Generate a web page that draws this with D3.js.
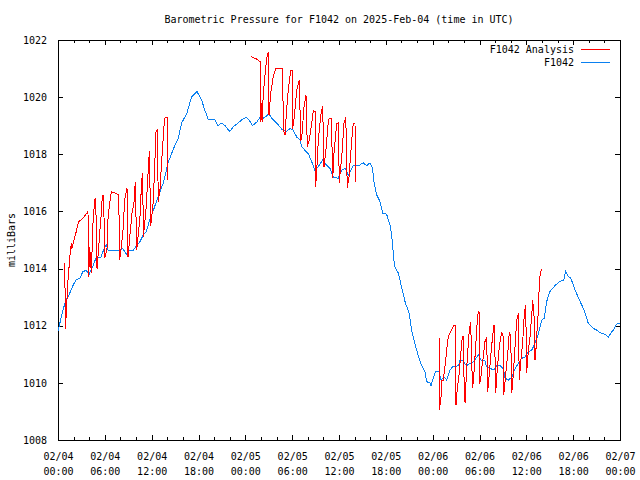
<!DOCTYPE html>
<html>
<head>
<meta charset="utf-8">
<script src="https://cdn.jsdelivr.net/npm/d3@7"></script>
<style>
  html, body { margin: 0; padding: 0; background: #fff; }
  svg { display: block; }
  text { font-family: "DejaVu Sans Mono", "Liberation Mono", monospace; font-size: 10px; fill: #000; }
</style>
</head>
<body>
<svg id="chart" width="640" height="480"></svg>
<script>
// ---------- data ----------
const title = "Barometric Pressure for F1042 on 2025-Feb-04 (time in UTC)";
const yLabel = "milliBars";
const seriesNames = ["F1042 Analysis", "F1042"];

// hours since 02/04 00:00 UTC
const xTickHours = [0, 6, 12, 18, 24, 30, 36, 42, 48, 54, 60, 66, 72];
const xTickDates = ["02/04","02/04","02/04","02/04","02/05","02/05","02/05","02/05","02/06","02/06","02/06","02/06","02/07"];
const xTickTimes = ["00:00","06:00","12:00","18:00","00:00","06:00","12:00","18:00","00:00","06:00","12:00","18:00","00:00"];
const xMinorHours = d3.range(0, 73, 2);
const yTicks = [1008, 1010, 1012, 1014, 1016, 1018, 1020, 1022];

// F1042 observed pressure
const pressureHours = [0,0.5,1.0,1.3,1.9,2.3,2.8,3.2,3.6,4.0,4.3,4.5,4.9,5.5,6.0,6.2,6.4,7.0,7.8,8.3,8.75,9.06,9.6,10.0,10.5,10.9,11.3,11.75,12.17,12.8,13.5,14.1,14.8,15.4,15.85,16.5,17.1,17.8,18.4,18.8,19.26,20.1,20.5,21.0,21.4,22.0,22.5,23.1,23.5,24.1,24.5,24.9,25.5,25.9,26.3,26.7,27.0,27.4,28.0,28.7,29.3,29.7,30.1,30.6,31.0,31.2,31.6,32.1,32.5,32.9,33.35,33.9,34.3,34.85,35.3,35.9,36.35,36.8,37.2,37.8,38.5,39.1,39.55,39.97,40.3,40.5,40.8,41.25,41.6,42.1,42.6,42.8,43.1,43.6,44.0,44.5,45.0,45.3,45.7,46.2,46.6,47.0,47.24,47.66,47.8,48.1,48.4,48.8,49.07,49.45,49.8,50.2,50.6,51.3,51.5,51.9,52.3,52.8,53.2,53.55,53.94,54.15,54.7,54.9,55.4,55.86,56.2,56.63,57.05,57.27,57.7,58.13,58.55,58.97,59.4,59.83,60.25,60.7,61.1,61.5,61.97,62.3,62.6,63.0,63.67,64.2,64.8,65.04,65.4,65.7,66.24,66.9,67.4,67.94,68.6,69.0,69.44,70.1,70.5,70.8,71.14,71.58,72];
const pressureValues = [1011.8,1012.4,1012.9,1013.0,1013.4,1013.6,1013.66,1013.9,1013.93,1013.8,1014.0,1014.1,1014.4,1014.4,1014.77,1014.83,1014.65,1014.63,1014.63,1014.7,1014.5,1014.65,1014.63,1014.77,1014.94,1015.17,1015.29,1015.7,1016.0,1016.5,1017.0,1017.7,1018.2,1018.56,1019.1,1019.43,1020.0,1020.2,1019.9,1019.55,1019.22,1019.2,1019.0,1019.1,1019.0,1018.8,1018.97,1019.1,1019.2,1019.3,1019.2,1019.0,1019.14,1019.3,1019.26,1019.34,1019.43,1019.26,1019.1,1018.87,1018.8,1018.9,1018.85,1018.6,1018.5,1018.27,1018.15,1018.0,1017.74,1017.45,1017.57,1017.8,1017.65,1017.5,1017.2,1017.16,1017.45,1017.5,1017.27,1017.6,1017.6,1017.7,1017.6,1017.7,1017.5,1017.0,1016.6,1016.35,1015.94,1015.9,1015.47,1015.0,1014.1,1013.84,1013.37,1012.8,1012.43,1011.85,1011.4,1010.9,1010.6,1010.4,1010.04,1010.0,1009.9,1010.2,1010.4,1010.4,1010.1,1010.2,1010.1,1010.45,1010.57,1010.6,1010.78,1010.78,1010.6,1010.68,1010.74,1010.86,1011.0,1010.8,1010.78,1010.57,1010.5,1010.45,1010.6,1010.6,1010.5,1010.16,1010.1,1010.2,1010.5,1010.68,1010.86,1010.9,1011.09,1011.15,1011.38,1011.67,1012.2,1012.26,1012.84,1013.19,1013.4,1013.54,1013.6,1013.9,1013.72,1013.66,1013.25,1012.84,1012.55,1012.08,1011.9,1011.85,1011.76,1011.7,1011.6,1011.73,1011.85,1012.06,1012.08];

// F1042 Analysis (null = gap)
const analysisHours = [0.86,0.96,1.28,1.58,1.7,1.79,2.01,2.34,2.65,3.2,3.84,3.93,4.06,4.27,4.48,4.7,4.83,5.0,5.12,5.34,5.55,5.68,5.85,5.98,6.28,6.41,6.62,6.83,7.47,7.78,7.9,8.11,8.33,8.54,8.84,8.97,9.19,9.48,9.74,9.9,10.08,10.25,10.54,10.7,10.85,10.93,11.27,11.7,11.88,12.21,12.56,12.72,12.85,13.07,13.28,13.58,13.71,14.05,14.06,
  14.1,
  24.73,25.46,25.88,25.92,26.1,26.14,26.3,26.56,26.74,26.94,27.03,27.25,27.58,27.89,28.79,28.86,29.08,29.3,29.5,29.81,30.04,30.07,30.27,30.58,30.91,31.1,31.22,31.52,31.77,31.94,32.2,32.5,32.71,32.93,33.01,33.14,33.35,33.66,33.91,34.08,34.33,34.63,34.75,35.07,35.13,35.2,35.36,35.7,35.91,36.04,36.13,36.35,36.64,36.87,37.06,37.28,37.63,37.83,38.05,38.09,
  38.1,
  48.85,48.86,49.07,49.16,49.36,49.58,49.8,50.0,50.43,50.73,50.95,50.99,51.16,51.38,51.59,51.8,51.93,52.02,52.15,52.27,52.44,52.7,52.87,53.0,53.13,53.3,53.51,53.72,53.85,53.98,53.99,54.15,54.28,54.49,54.7,54.92,55.05,55.22,55.43,55.69,55.86,55.99,56.07,56.28,56.54,56.85,57.05,57.1,57.36,57.61,57.82,58.0,58.13,58.33,58.55,58.77,58.97,59.1,59.27,59.53,59.74,59.92,60.04,60.25,60.47,60.69,60.82,60.99,61.11,61.24,61.41,61.58,61.66,61.84,62.04];
const analysisValues = [1014.18,1011.9,1013.6,1014.6,1014.88,1014.7,1014.94,1015.3,1015.64,1015.76,1016.0,1013.7,1014.77,1013.84,1015.58,1016.4,1016.45,1014.0,1014.4,1015.23,1015.93,1016.57,1016.57,1014.36,1014.71,1015.76,1016.28,1016.69,1016.63,1016.57,1014.3,1014.77,1015.35,1016.4,1016.8,1014.4,1015.1,1015.93,1016.34,1017.04,1014.65,1015.1,1015.93,1017.04,1017.33,1015.1,1016.05,1018.1,1015.5,1016.34,1018.8,1018.85,1016.34,1016.8,1017.74,1019.0,1019.28,1019.28,1017.1,
  null,
  1021.42,1021.33,1021.24,1019.14,1019.78,1019.14,1020.13,1020.89,1021.36,1021.59,1019.37,1020.13,1020.72,1021.0,1021.0,1018.85,1018.67,1019.6,1020.25,1020.93,1020.93,1018.9,1019.3,1020.25,1020.6,1018.5,1018.55,1019.67,1020.08,1018.27,1018.5,1019.08,1019.53,1019.5,1016.87,1017.4,1018.5,1019.37,1019.67,1017.57,1018.15,1019.14,1019.26,1019.26,1017.5,1017.16,1018.03,1019.08,1019.1,1016.98,1017.3,1017.9,1019.08,1019.3,1016.81,1017.2,1018.5,1019.08,1019.08,1017.04,
  null,
  1011.56,1009.05,1009.5,1010.1,1010.1,1010.57,1011.15,1011.62,1011.85,1012.02,1012.02,1009.22,1009.81,1010.3,1010.97,1011.62,1011.62,1010.16,1009.28,1010.0,1010.9,1011.85,1012.14,1010.68,1009.81,1010.4,1011.27,1012.2,1012.49,1012.45,1009.98,1010.1,1010.5,1010.92,1011.44,1011.6,1009.69,1010.2,1010.9,1011.67,1012.02,1010.9,1009.63,1010.5,1011.27,1011.79,1011.6,1009.57,1010.3,1011.0,1011.79,1011.6,1009.63,1010.3,1011.27,1012.2,1012.43,1010.1,1010.7,1011.4,1012.43,1012.73,1010.33,1011.1,1011.6,1012.37,1012.9,1012.32,1010.8,1011.2,1012.0,1012.67,1013.6,1013.89,1014.0];

const colors = { analysis: "#ff0000", obs: "#0a80f0" };

// ---------- drawing ----------
const svg = d3.select("#chart");
const margin = { left: 58, right: 20, top: 40, bottom: 40 };
const W = 640, H = 480;
const x = d3.scaleLinear().domain([0, 72]).range([margin.left, W - margin.right]);
const y = d3.scaleLinear().domain([1008, 1022]).range([H - margin.bottom, margin.top]);

// title
svg.append("text").attr("x", (x(0) + x(72)) / 2).attr("y", 23)
  .attr("text-anchor", "middle").text(title);

// y label
svg.append("text").attr("transform", `translate(15,${(y(1008)+y(1022))/2}) rotate(-90)`)
  .attr("text-anchor", "middle").text(yLabel);

// minor x ticks (bottom and top)
svg.append("g").attr("transform", `translate(0,${y(1008)})`)
  .call(d3.axisBottom(x).tickValues(xMinorHours).tickSize(-3).tickFormat(""))
  .call(g => g.select(".domain").remove());
svg.append("g").attr("transform", `translate(0,${y(1022)})`)
  .call(d3.axisTop(x).tickValues(xMinorHours).tickSize(-3).tickFormat(""))
  .call(g => g.select(".domain").remove());

// major x ticks
const xb = svg.append("g").attr("transform", `translate(0,${y(1008)})`)
  .call(d3.axisBottom(x).tickValues(xTickHours).tickSize(-5).tickFormat((d, i) => xTickDates[i]))
  .call(g => g.select(".domain").remove());
xb.selectAll(".tick text").each(function(d, i) {
  const t = d3.select(this).text(null).attr("y", 0).attr("dy", null).attr("fill", "#000");
  t.append("tspan").attr("x", 0).attr("y", 20).text(xTickDates[i]);
  t.append("tspan").attr("x", 0).attr("y", 35).text(xTickTimes[i]);
});
svg.append("g").attr("transform", `translate(0,${y(1022)})`)
  .call(d3.axisTop(x).tickValues(xTickHours).tickSize(-5).tickFormat(""))
  .call(g => g.select(".domain").remove());

// y ticks left & right
svg.append("g").attr("transform", `translate(${x(0)},0)`)
  .call(d3.axisLeft(y).tickValues(yTicks).tickSize(-5).tickPadding(11).tickFormat(d3.format("d")))
  .call(g => g.select(".domain").remove())
  .call(g => g.selectAll(".tick text").attr("fill", "#000"));
svg.append("g").attr("transform", `translate(${x(72)},0)`)
  .call(d3.axisRight(y).tickValues(yTicks).tickSize(-5).tickFormat(""))
  .call(g => g.select(".domain").remove());

svg.selectAll(".tick line").attr("stroke", "#000").attr("shape-rendering", "crispEdges");
svg.selectAll(".tick text").style("font-family", '"DejaVu Sans Mono", monospace').style("font-size", "10px");

// border
svg.append("rect").attr("x", x(0)).attr("y", y(1022))
  .attr("width", x(72) - x(0)).attr("height", y(1008) - y(1022))
  .attr("fill", "none").attr("stroke", "#000").attr("shape-rendering", "crispEdges");

// lines
const obsData = pressureHours.map((h, i) => [h, pressureValues[i]]);
const anaData = analysisHours.map((h, i) => [h, analysisValues[i]]);
const line = d3.line().defined(d => d[1] !== null).x(d => x(d[0])).y(d => y(d[1]));

svg.append("path").datum(obsData).attr("d", line)
  .attr("fill", "none").attr("stroke", colors.obs).attr("stroke-width", 1)
  .attr("shape-rendering", "crispEdges");
svg.append("path").datum(anaData).attr("d", line)
  .attr("fill", "none").attr("stroke", colors.analysis).attr("stroke-width", 1)
  .attr("shape-rendering", "crispEdges");

// legend
const legend = svg.append("g");
const legendRows = [
  { name: seriesNames[0], color: colors.analysis, cy: 49.5 },
  { name: seriesNames[1], color: colors.obs, cy: 62.5 }
];
legendRows.forEach(r => {
  legend.append("text").attr("x", 574).attr("y", r.cy + 3.6).attr("text-anchor", "end").text(r.name);
  legend.append("line").attr("x1", 581).attr("x2", 610).attr("y1", r.cy).attr("y2", r.cy)
    .attr("stroke", r.color).attr("stroke-width", 1).attr("shape-rendering", "crispEdges");
});
</script>
</body>
</html>
